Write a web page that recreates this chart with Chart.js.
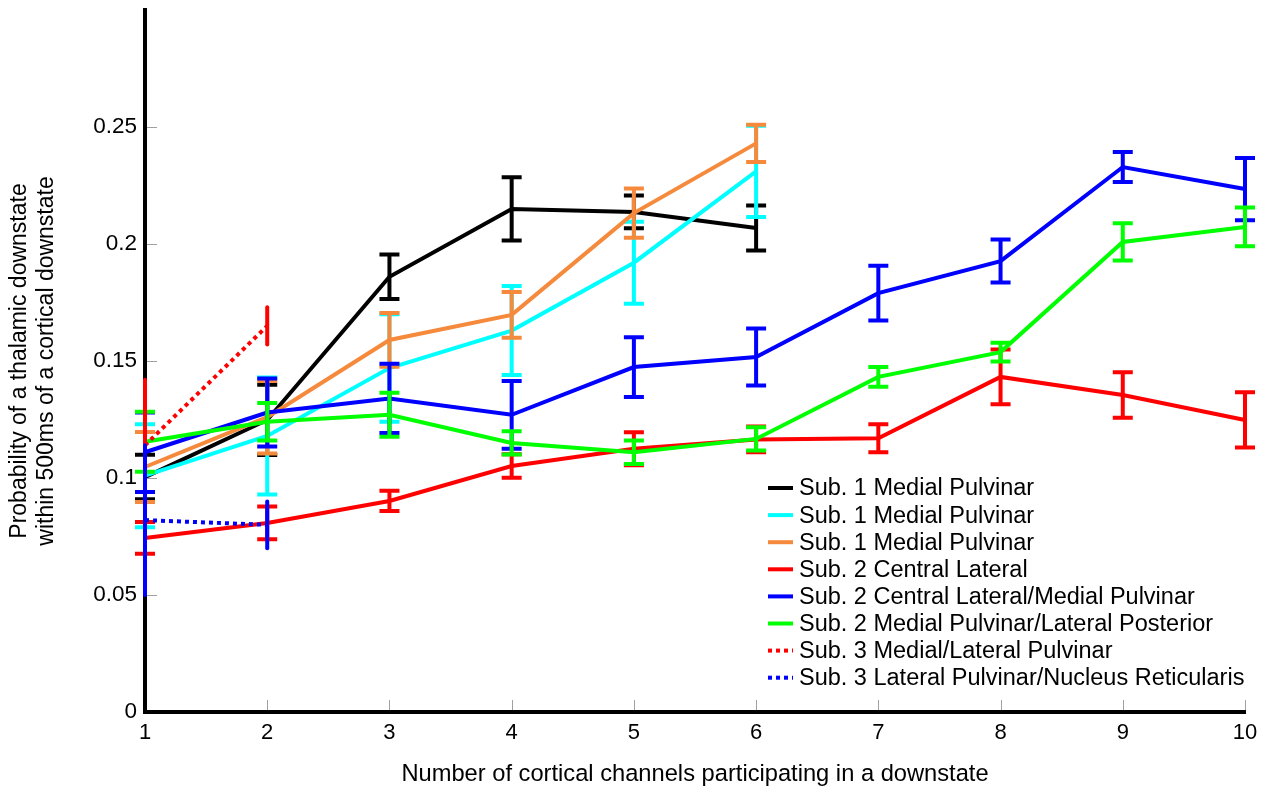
<!DOCTYPE html>
<html>
<head>
<meta charset="utf-8">
<title>Thalamic downstate probability</title>
<script src="https://cdn.jsdelivr.net/npm/chart.js@4/dist/chart.umd.min.js"></script>
<style>
  html, body { margin: 0; padding: 0; background: #fff; }
  #wrap { width: 1271px; height: 789px; }
</style>
</head>
<body>
<div id="wrap"><canvas id="chart" width="1271" height="789"></canvas></div>
<script>
// number of cortical channels (x)
const channels = [1, 2, 3, 4, 5, 6, 7, 8, 9, 10]
const yTicks = [0, 0.05, 0.1, 0.15, 0.2, 0.25]

// mean probability and error half-width per series
const sub1MpA = [0.1004, 0.1248, 0.186, 0.215, 0.2137, 0.2068]
const sub1MpAErr = [0.0095, 0.015, 0.0095, 0.0135, 0.007, 0.0096]
const sub1MpB = [0.101, 0.118, 0.147, 0.163, 0.192, 0.231]
const sub1MpBErr = [0.022, 0.025, 0.023, 0.019, 0.0175, 0.0195]
const sub1MpC = [0.1047, 0.126, 0.159, 0.1697, 0.2132, 0.243]
const sub1MpCErr = [0.015, 0.0155, 0.0115, 0.0098, 0.0105, 0.008]
const sub2Cl = [0.0744, 0.0808, 0.0902, 0.1051, 0.1125, 0.1165, 0.117, 0.1432, 0.1355, 0.1248]
const sub2ClErr = [0.0068, 0.007, 0.0043, 0.005, 0.007, 0.0055, 0.006, 0.0117, 0.0097, 0.0118]
const sub2ClMp = [0.111, 0.128, 0.134, 0.127, 0.1474, 0.1517, 0.179, 0.1927, 0.2329, 0.2235]
const sub2ClMpErr = [0.017, 0.0145, 0.0148, 0.0145, 0.0128, 0.0122, 0.0117, 0.0092, 0.0064, 0.0133]
const sub2MpLp = [0.1155, 0.124, 0.127, 0.115, 0.111, 0.1167, 0.1432, 0.1538, 0.2009, 0.2073]
const sub2MpLpErr = [0.0128, 0.008, 0.0094, 0.005, 0.005, 0.005, 0.0042, 0.004, 0.008, 0.0083]
const sub3MlPul = [0.114, 0.165]
const sub3MlPulErr = [0.028, 0.008]
const sub3LpNr = [0.082, 0.080]
const sub3LpNrErr = [0.032, 0.01]

const colors = {
  black: '#000000',
  cyan: '#00ffff',
  orange: '#f58a3c',
  red: '#ff0000',
  blue: '#0000ff',
  green: '#00ff00',
}

const FONT = '"Liberation Sans", Arial, sans-serif'
const Y_MAX = 0.3

const series = [
  { label: 'Sub. 1 Medial Pulvinar', values: sub1MpA, err: sub1MpAErr, color: colors.black },
  { label: 'Sub. 1 Medial Pulvinar', values: sub1MpB, err: sub1MpBErr, color: colors.cyan },
  { label: 'Sub. 1 Medial Pulvinar', values: sub1MpC, err: sub1MpCErr, color: colors.orange },
  { label: 'Sub. 2 Central Lateral', values: sub2Cl, err: sub2ClErr, color: colors.red },
  { label: 'Sub. 2 Central Lateral/Medial Pulvinar', values: sub2ClMp, err: sub2ClMpErr, color: colors.blue },
  { label: 'Sub. 2 Medial Pulvinar/Lateral Posterior', values: sub2MpLp, err: sub2MpLpErr, color: colors.green },
  { label: 'Sub. 3 Medial/Lateral Pulvinar', values: sub3MlPul, err: sub3MlPulErr, color: colors.red, dotted: true },
  { label: 'Sub. 3 Lateral Pulvinar/Nucleus Reticularis', values: sub3LpNr, err: sub3LpNrErr, color: colors.blue, dotted: true },
]

const datasets = series.map((s, i) => ({
  label: s.label,
  data: s.values.map((v, j) => ({ x: channels[j], y: v })),
  errors: s.err,
  dotted: !!s.dotted,
  borderColor: s.color,
  backgroundColor: s.color,
  borderWidth: 4,
  borderDash: s.dotted ? [4, 4] : [],
  pointRadius: 0,
  tension: 0,
  fill: false,
  clip: false,
  order: series.length - i,
}))

// error bars, drawn right after each line so stacking follows the series order
const errorBars = {
  id: 'errorBars',
  afterDatasetDraw(chart, args) {
    const ds = chart.data.datasets[args.index]
    const { ctx } = chart
    const yScale = chart.scales.y
    const xScale = chart.scales.x
    ctx.save()
    ctx.strokeStyle = ds.borderColor
    ctx.lineWidth = 4
    ctx.setLineDash([])
    ctx.lineCap = ds.dotted ? 'round' : 'butt'
    ds.data.forEach((p, j) => {
      const e = ds.errors[j]
      const px = xScale.getPixelForValue(p.x)
      const top = yScale.getPixelForValue(p.y + e)
      const bot = yScale.getPixelForValue(p.y - e)
      ctx.beginPath()
      ctx.moveTo(px, top)
      ctx.lineTo(px, bot)
      if (!ds.dotted) {
        ctx.moveTo(px - 10, top)
        ctx.lineTo(px + 10, top)
        ctx.moveTo(px - 10, bot)
        ctx.lineTo(px + 10, bot)
      }
      ctx.stroke()
    })
    ctx.restore()
  },
}

// short grey tick marks pointing into the plot
const innerTicks = {
  id: 'innerTicks',
  afterDraw(chart) {
    const { ctx, chartArea } = chart
    const x = chart.scales.x
    const y = chart.scales.y
    ctx.save()
    ctx.strokeStyle = '#a0a0a0'
    ctx.lineWidth = 1
    ctx.beginPath()
    channels.slice(1).forEach((c) => {
      const px = Math.round(x.getPixelForValue(c)) + 0.5
      ctx.moveTo(px, chartArea.bottom - 2)
      ctx.lineTo(px, chartArea.bottom - 12)
    })
    yTicks.slice(1).forEach((v) => {
      const py = Math.round(y.getPixelForValue(v)) + 0.5
      ctx.moveTo(chartArea.left + 2, py)
      ctx.lineTo(chartArea.left + 12, py)
    })
    ctx.stroke()
    ctx.restore()
  },
}

const legendBox = {
  id: 'legendBox',
  afterDraw(chart) {
    const { ctx } = chart
    ctx.save()
    ctx.font = '23.5px ' + FONT
    ctx.textBaseline = 'middle'
    ctx.textAlign = 'left'
    series.forEach((s, i) => {
      const cy = 488 + i * 27.1
      ctx.strokeStyle = s.color
      ctx.lineWidth = 4
      ctx.setLineDash(s.dotted ? [4, 4] : [])
      ctx.beginPath()
      ctx.moveTo(768, cy)
      ctx.lineTo(793, cy)
      ctx.stroke()
      ctx.fillStyle = '#000'
      ctx.fillText(s.label, 799, cy + 1)
    })
    ctx.restore()
  },
}

new Chart(document.getElementById('chart'), {
  type: 'line',
  data: { datasets },
  plugins: [errorBars, innerTicks, legendBox],
  options: {
    responsive: false,
    animation: false,
    layout: { padding: { top: 10, right: 26, left: 0, bottom: 0 } },
    plugins: {
      legend: { display: false },
      tooltip: { enabled: false },
    },
    scales: {
      x: {
        type: 'linear',
        min: 1,
        max: 10,
        afterFit(scale) { scale.height = 77 },
        afterBuildTicks(scale) { scale.ticks = channels.map((v) => ({ value: v })) },
        grid: { drawOnChartArea: false, drawTicks: false },
        border: { display: true, color: '#000', width: 4 },
        ticks: { color: '#000', padding: 8, font: { family: FONT, size: 22 }, maxRotation: 0 },
        title: {
          display: true,
          text: 'Number of cortical channels participating in a downstate',
          color: '#000',
          font: { family: FONT, size: 23.7 },
          padding: { top: 0, bottom: 0 },
        },
      },
      y: {
        type: 'linear',
        min: 0,
        max: Y_MAX,
        afterFit(scale) {
          scale.width = 145
          // the top of the axis has no label, so no room is kept for one
          scale.paddingTop = 0
          scale.paddingBottom = 0
        },
        afterBuildTicks(scale) { scale.ticks = yTicks.map((v) => ({ value: v })) },
        grid: { drawOnChartArea: false, drawTicks: false },
        border: { display: true, color: '#000', width: 4 },
        ticks: {
          color: '#000',
          padding: 8,
          font: { family: FONT, size: 22.5 },
          callback: (v) => String(v),
        },
        title: {
          display: true,
          text: ['Probability of a thalamic downstate', 'within 500ms of a cortical downstate'],
          color: '#000',
          font: { family: FONT, size: 23, lineHeight: 1.17 },
          padding: { top: 6.5, bottom: 0 },
        },
      },
    },
  },
})
</script>
</body>
</html>
